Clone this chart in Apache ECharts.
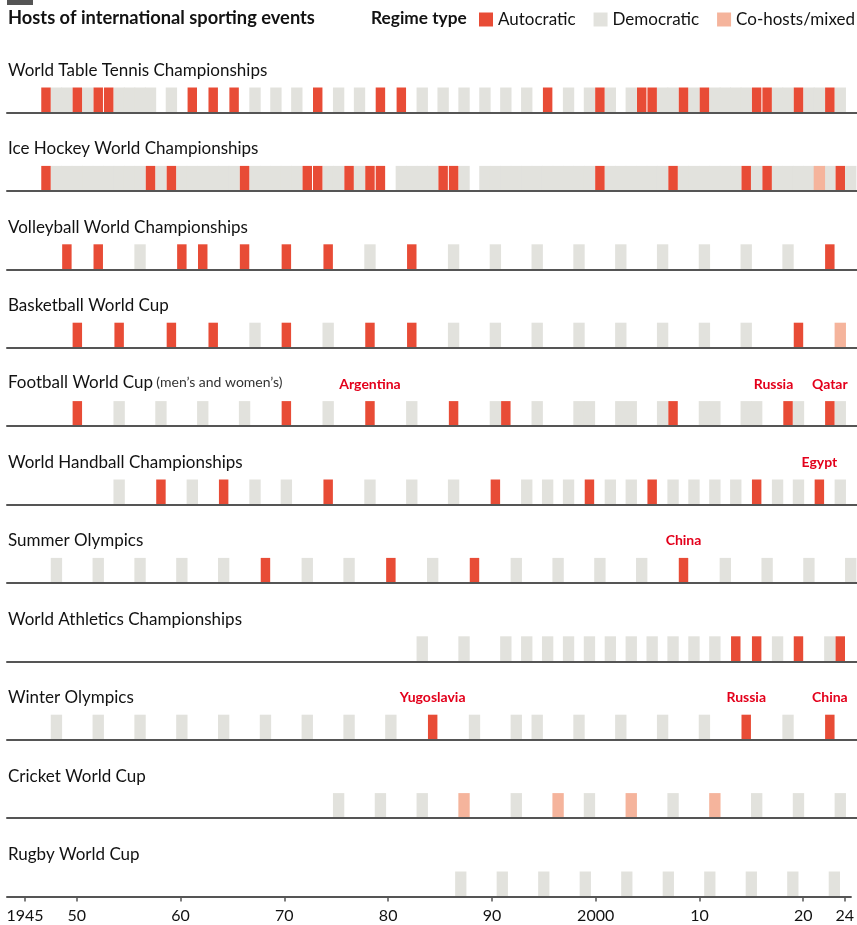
<!DOCTYPE html>
<html><head><meta charset="utf-8">
<script src="https://cdn.jsdelivr.net/npm/echarts@6/dist/echarts.min.js"></script>
<style>html,body{margin:0;padding:0;background:#fff}#c{width:857px;height:925px}</style>
</head><body><div id="c"></div>
<script>
// ---------------- DATA ----------------
const chartTitle = 'Hosts of international sporting events';
const legendTitle = 'Regime type';
const regimeTypes = ['Autocratic', 'Democratic', 'Co-hosts/mixed'];
const tickYears = [1945, 1950, 1960, 1970, 1980, 1990, 2000, 2010, 2020, 2024];

const eventTitles = [
  'World Table Tennis Championships',
  'Ice Hockey World Championships',
  'Volleyball World Championships',
  'Basketball World Cup',
  'Football World Cup',
  'World Handball Championships',
  'Summer Olympics',
  'World Athletics Championships',
  'Winter Olympics',
  'Cricket World Cup',
  'Rugby World Cup'
];
const eventSubtitles = ['', '', '', '', '(men\u2019s and women\u2019s)', '', '', '', '', '', ''];

// Host years by regime type
const tableTennisAutocratic = [1947, 1950, 1952, 1953, 1961, 1963, 1965, 1973, 1979, 1981, 1995, 2000, 2004, 2005, 2008, 2010, 2015, 2016, 2019, 2022];
const tableTennisDemocratic = [1948, 1949, 1951, 1954, 1955, 1956, 1957, 1959, 1967, 1969, 1971, 1975, 1977, 1983, 1985, 1987, 1989, 1991, 1993, 1997, 1999, 2001, 2003, 2006, 2007, 2009, 2011, 2012, 2013, 2014, 2017, 2018, 2020, 2021, 2023];
const tableTennisMixed = [];

const iceHockeyAutocratic = [1947, 1957, 1959, 1966, 1972, 1973, 1976, 1978, 1979, 1985, 1986, 2000, 2007, 2014, 2016, 2023];
const iceHockeyDemocratic = [1948, 1949, 1950, 1951, 1952, 1953, 1954, 1955, 1956, 1958, 1960, 1961, 1962, 1963, 1964, 1965, 1967, 1968, 1969, 1970, 1971, 1974, 1975, 1977, 1981, 1982, 1983, 1984, 1987, 1989, 1990, 1991, 1992, 1993, 1994, 1995, 1996, 1997, 1998, 1999, 2001, 2002, 2003, 2004, 2005, 2006, 2008, 2009, 2010, 2011, 2012, 2013, 2015, 2017, 2018, 2019, 2020, 2022, 2024];
const iceHockeyMixed = [2021];

const volleyballAutocratic = [1949, 1952, 1960, 1962, 1966, 1970, 1974, 1982, 2022];
const volleyballDemocratic = [1956, 1978, 1986, 1990, 1994, 1998, 2002, 2006, 2010, 2014, 2018];
const volleyballMixed = [];

const basketballAutocratic = [1950, 1954, 1959, 1963, 1970, 1978, 1982, 2019];
const basketballDemocratic = [1967, 1974, 1986, 1990, 1994, 1998, 2002, 2006, 2010, 2014];
const basketballMixed = [2023];

const footballAutocratic = [1950, 1970, 1978, 1986, 1991, 2007, 2018, 2022];
const footballDemocratic = [1954, 1958, 1962, 1966, 1974, 1982, 1990, 1994, 1998, 1999, 2002, 2003, 2006, 2010, 2011, 2014, 2015, 2019, 2023];
const footballMixed = [];

const handballAutocratic = [1958, 1964, 1974, 1990, 1999, 2005, 2015, 2021];
const handballDemocratic = [1954, 1961, 1967, 1970, 1978, 1982, 1986, 1993, 1995, 1997, 2001, 2003, 2007, 2009, 2011, 2013, 2017, 2019, 2023];
const handballMixed = [];

const summerAutocratic = [1968, 1980, 1988, 2008];
const summerDemocratic = [1948, 1952, 1956, 1960, 1964, 1972, 1976, 1984, 1992, 1996, 2000, 2004, 2012, 2016, 2020, 2024];
const summerMixed = [];

const athleticsAutocratic = [2013, 2015, 2019, 2023];
const athleticsDemocratic = [1983, 1987, 1991, 1993, 1995, 1997, 1999, 2001, 2003, 2005, 2007, 2009, 2011, 2017, 2022];
const athleticsMixed = [];

const winterAutocratic = [1984, 2014, 2022];
const winterDemocratic = [1948, 1952, 1956, 1960, 1964, 1968, 1972, 1976, 1980, 1988, 1992, 1994, 1998, 2002, 2006, 2010, 2018];
const winterMixed = [];

const cricketAutocratic = [];
const cricketDemocratic = [1975, 1979, 1983, 1992, 1999, 2007, 2015, 2019, 2023];
const cricketMixed = [1987, 1996, 2003, 2011];

const rugbyAutocratic = [];
const rugbyDemocratic = [1987, 1991, 1995, 1999, 2003, 2007, 2011, 2015, 2019, 2023];
const rugbyMixed = [];

// Highlighted hosts [year, label]
const footballNotes = [[1978, 'Argentina'], [2018, 'Russia'], [2022, 'Qatar']];
const handballNotes = [[2021, 'Egypt']];
const summerNotes = [[2008, 'China']];
const winterNotes = [[1984, 'Yugoslavia'], [2014, 'Russia'], [2022, 'China']];

// ---------------- BUILD ----------------
const rowsAuto = [tableTennisAutocratic, iceHockeyAutocratic, volleyballAutocratic, basketballAutocratic, footballAutocratic, handballAutocratic, summerAutocratic, athleticsAutocratic, winterAutocratic, cricketAutocratic, rugbyAutocratic];
const rowsDemo = [tableTennisDemocratic, iceHockeyDemocratic, volleyballDemocratic, basketballDemocratic, footballDemocratic, handballDemocratic, summerDemocratic, athleticsDemocratic, winterDemocratic, cricketDemocratic, rugbyDemocratic];
const rowsMixed = [tableTennisMixed, iceHockeyMixed, volleyballMixed, basketballMixed, footballMixed, handballMixed, summerMixed, athleticsMixed, winterMixed, cricketMixed, rugbyMixed];
const rowsNotes = [[], [], [], [], footballNotes, handballNotes, summerNotes, [], winterNotes, [], []];

// layout / style
const FONT = 'Lato, "Open Sans", sans-serif';
const TEXT = '#121212';
const COLORS = ['#e84c36', '#e2e2dd', '#f5b49c'];
const NOTE_RED = '#e3001b';
const FIRST_BASE = 112.5, STEP = 78.4, BAR_H = 25;
const PLOT_LEFT = 7, PLOT_W = 850;
const X_MIN = 1943.27, X_MAX = 2024.6;

const grids = [], xAxes = [], yAxes = [], series = [], graphics = [];
const n = eventTitles.length;

function barRenderer(isRed) {
  return function (params, api) {
    const y = api.value(0);
    const a = api.coord([y - 0.5, 1]);
    const b = api.coord([y + 0.5, 0]);
    const inset = isRed ? 0.5 : -0.45;
    return {
      type: 'rect',
      shape: { x: a[0] + inset, y: a[1], width: b[0] - a[0] - 2 * inset, height: b[1] - a[1] },
      style: { fill: api.visual('color') }
    };
  };
}

for (let i = 0; i < n; i++) {
  const base = FIRST_BASE + STEP * i;
  const last = i === n - 1;
  grids.push({ left: PLOT_LEFT, width: PLOT_W, top: base - BAR_H, height: BAR_H });
  xAxes.push({
    type: 'value', gridIndex: i, min: X_MIN, max: X_MAX, z: 10,
    axisLine: { show: true, lineStyle: { color: '#555', width: 2 } },
    splitLine: { show: false },
    axisTick: last ? { show: true, customValues: tickYears, length: 5, lineStyle: { color: '#555', width: 1.5 } } : { show: false },
    axisLabel: last ? {
      show: true, customValues: tickYears, margin: 11,
      fontFamily: FONT, fontSize: 16, color: TEXT,
      formatter: v => (v === 1945 || v === 2000) ? String(v) : String(v).slice(2)
    } : { show: false }
  });
  yAxes.push({ type: 'value', gridIndex: i, min: 0, max: 1, show: false });

  const groups = [rowsAuto[i], rowsDemo[i], rowsMixed[i]];
  groups.forEach((years, k) => {
    series.push({
      type: 'custom', name: regimeTypes[k], xAxisIndex: i, yAxisIndex: i,
      itemStyle: { color: COLORS[k] }, color: COLORS[k],
      renderItem: barRenderer(k === 0), silent: true,
      encode: { x: 0, y: 1 },
      data: years.map(yr => [yr, 1]), z: k === 0 ? 3 : 2
    });
  });

  const notes = rowsNotes[i];
  if (notes.length) {
    series.push({
      type: 'custom', xAxisIndex: i, yAxisIndex: i, silent: true,
      encode: { x: 0, y: 1 },
      data: notes.map(d => [d[0], 1]),
      renderItem: function (params, api) {
        const idx = params.dataIndex;
        const yr = notes[idx][0];
        const next = notes[idx + 1];
        const crowded = next && next[0] - yr <= 5;
        const p = crowded ? api.coord([yr + 0.5, 1]) : api.coord([yr, 1]);
        return {
          type: 'text',
          style: {
            x: p[0], y: p[1] - 17, text: notes[idx][1],
            align: crowded ? 'right' : 'center', verticalAlign: 'middle',
            font: 'bold 14px ' + FONT, fill: NOTE_RED
          }
        };
      }
    });
  }

  const sub = eventSubtitles[i];
  graphics.push({
    type: 'text', left: 8, top: base - 42 - 10,
    style: sub ? {
      text: '{a|' + eventTitles[i] + '} {b|' + sub + '}',
      rich: {
        a: { fontFamily: FONT, fontSize: 17, fill: TEXT, lineHeight: 20 },
        b: { fontFamily: FONT, fontSize: 14, fill: '#333', lineHeight: 20 }
      }
    } : { text: eventTitles[i], font: '17px ' + FONT, fill: TEXT, lineHeight: 20 }
  });
}

graphics.push({ type: 'rect', shape: { x: 7, y: 0, width: 26, height: 5 }, style: { fill: '#555' } });
graphics.push({ type: 'text', left: 8, top: 7, style: { text: chartTitle, font: 'bold 18.3px ' + FONT, fill: TEXT, lineHeight: 22 } });
graphics.push({ type: 'text', left: 371, top: 8, style: { text: legendTitle, font: 'bold 17.3px ' + FONT, fill: TEXT, lineHeight: 20 } });

const option = {
  animation: false,
  backgroundColor: '#fff',
  legend: {
    data: regimeTypes, left: 479, top: 7, icon: 'rect', itemWidth: 14, itemHeight: 14,
    itemGap: 18, selectedMode: false, padding: [4, 0, 4, 0],
    textStyle: { fontFamily: FONT, fontSize: 17, color: TEXT }
  },
  grid: grids, xAxis: xAxes, yAxis: yAxes, series: series, graphic: graphics
};
const chart = echarts.init(document.getElementById('c'), null, { renderer: 'canvas' });
chart.setOption(option);
</script></body></html>
